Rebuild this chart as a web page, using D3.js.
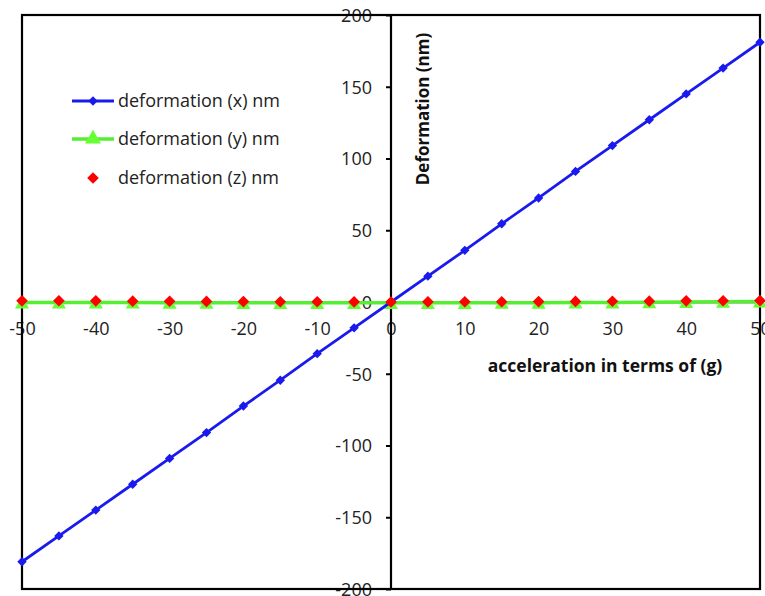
<!DOCTYPE html>
<html><head><meta charset="utf-8">
<script src="https://cdn.jsdelivr.net/npm/d3@7"></script>
<style>body{margin:0;background:#fff}svg{display:block}text{font-family:"Open Sans","Noto Sans",sans-serif}</style>
</head><body><svg id="c" width="765" height="596"></svg>
<script>
const accel = [-50,-45,-40,-35,-30,-25,-20,-15,-10,-5,0,5,10,15,20,25,30,35,40,45,50];
const defX = [-181,-163,-145,-127,-109,-91,-72.5,-54.5,-36,-18,0,18,36,54.5,72.5,91,109,127,145,163,181];
const defY = [-0.3,-0.3,-0.4,-0.4,-0.5,-0.5,-0.6,-0.6,-0.6,-0.6,-0.6,-0.6,-0.6,-0.5,-0.5,-0.4,-0.3,-0.2,0,0.2,0.4];
const defZ = [0.8,0.9,0.8,0.6,0.5,0.4,0.3,0.2,0.2,0.1,0,0.1,0.2,0.2,0.3,0.4,0.5,0.6,0.8,0.9,1.0];
const xTicks = [-50,-40,-30,-20,-10,0,10,20,30,40,50];
const yTicks = [-200,-150,-100,-50,0,50,100,150,200];
const seriesNames = ["deformation (x) nm","deformation (y) nm","deformation (z) nm"];

const svg = d3.select("#c");
const L=22,R=760,T=15,B=589;
const x = d3.scaleLinear().domain([-50,50]).range([L,R]);
const y = d3.scaleLinear().domain([-200,200]).range([B,T]);
const fmt = d => String(d);

// y axis at x=0
const yAx = svg.append("g").attr("transform",`translate(${x(0)},0)`)
  .call(d3.axisLeft(y).tickValues(yTicks).tickSize(5).tickPadding(14).tickFormat(fmt));
yAx.select(".domain").remove();
yAx.selectAll("line").attr("stroke","#000").attr("stroke-width",2);
yAx.selectAll("text").attr("font-size",18).attr("fill","#222").attr("dy","0.36em");

// x axis labels at y=0
const xAx = svg.append("g").attr("transform",`translate(0,${y(0)})`)
  .call(d3.axisBottom(x).tickValues(xTicks).tickSize(0).tickPadding(20).tickFormat(fmt));
xAx.select(".domain").attr("stroke","#000").attr("stroke-width",1.5);
xAx.selectAll("text").attr("font-size",18).attr("fill","#222");

svg.append("line").attr("x1",x(0)).attr("x2",x(0)).attr("y1",T).attr("y2",B).attr("stroke","#000").attr("stroke-width",2.2);
svg.append("rect").attr("x",L).attr("y",T).attr("width",R-L).attr("height",B-T).attr("fill","none").attr("stroke","#000").attr("stroke-width",2.2);

const line = d3.line().x((d,i)=>x(accel[i])).y(d=>y(d));
// green
svg.append("path").datum(defY).attr("d",line).attr("fill","none").attr("stroke","#55ee33").attr("stroke-width",3.5);
const tri = d3.symbol().type(d3.symbolTriangle).size(85);
svg.append("g").selectAll("path").data(defY).join("path")
  .attr("d",tri).attr("transform",(d,i)=>`translate(${x(accel[i])},${y(d)+2})`).attr("fill","#66ff33");
// blue
svg.append("path").datum(defX).attr("d",line).attr("fill","none").attr("stroke","#1a1aee").attr("stroke-width",2.8);
const dia = d3.symbol().type(d3.symbolSquare).size(44);
svg.append("g").selectAll("path").data(defX).join("path")
  .attr("d",dia).attr("transform",(d,i)=>`translate(${x(accel[i])},${y(d)}) rotate(45)`).attr("fill","#1a1aee");
// red
const diaR = d3.symbol().type(d3.symbolSquare).size(68);
svg.append("g").selectAll("path").data(defZ).join("path")
  .attr("d",diaR).attr("transform",(d,i)=>`translate(${x(accel[i])},${y(d)}) rotate(45)`).attr("fill","#ff0000");

// axis titles
svg.append("text").attr("transform",`translate(429,109) rotate(-90)`).attr("text-anchor","middle")
  .attr("font-size",17).attr("font-weight","bold").attr("fill","#111").text("Deformation (nm)");
svg.append("text").attr("x",605).attr("y",372).attr("text-anchor","middle")
  .attr("font-size",17.5).attr("font-weight","bold").attr("fill","#111").text("acceleration in terms of (g)");

// legend
const lg = svg.append("g");
const ly=[101,139,178];
lg.append("line").attr("x1",72).attr("x2",114).attr("y1",ly[0]).attr("y2",ly[0]).attr("stroke","#1a1aee").attr("stroke-width",2.8);
lg.append("path").attr("d",dia).attr("transform",`translate(93,${ly[0]}) rotate(45)`).attr("fill","#1a1aee");
lg.append("line").attr("x1",72).attr("x2",114).attr("y1",ly[1]).attr("y2",ly[1]).attr("stroke","#55ee33").attr("stroke-width",3.5);
lg.append("path").attr("d",d3.symbol().type(d3.symbolTriangle).size(110)).attr("transform",`translate(93,${ly[1]})`).attr("fill","#66ff33");
lg.append("path").attr("d",diaR).attr("transform",`translate(93,${ly[2]}) rotate(45)`).attr("fill","#ff0000");
seriesNames.forEach((s,i)=>lg.append("text").attr("x",118).attr("y",ly[i]).attr("dy","0.35em")
  .attr("font-size",18).attr("fill","#222").text(s));
</script></body></html>
